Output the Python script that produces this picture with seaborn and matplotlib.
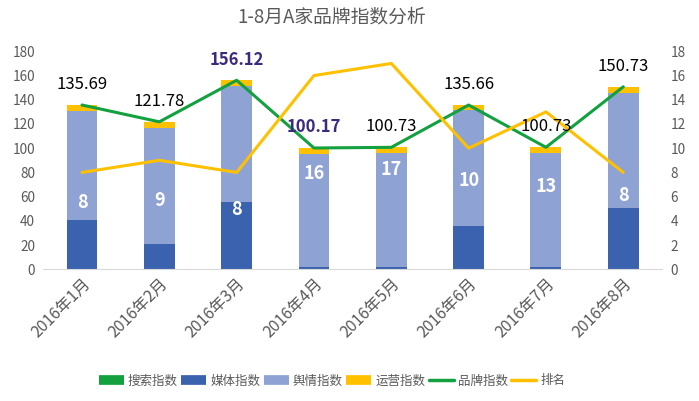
import numpy as np
import pandas as pd
import matplotlib
matplotlib.use('Agg')
import matplotlib.pyplot as plt
import seaborn as sns
from matplotlib.lines import Line2D

# data
months = ['2016年1月', '2016年2月', '2016年3月', '2016年4月',
          '2016年5月', '2016年6月', '2016年7月', '2016年8月']
search = [0, 0, 0, 0, 0, 0, 0, 0]
media = [41, 21, 55.5, 1.5, 1.5, 36, 1.5, 50.5]
opinion = [90, 96, 96, 94, 94.5, 95.5, 94.5, 95.5]
ops = [4.69, 4.78, 4.62, 4.67, 4.73, 4.16, 4.73, 4.73]
brand = [135.69, 121.78, 156.12, 100.17, 100.73, 135.66, 100.73, 150.73]
rank = [8, 9, 8, 16, 17, 10, 13, 8]
# where the white rank numbers sit (left-axis units)
rank_label_y = [55, 57, 49, 79.5, 82.5, 73.7, 68, 61]
highlight = ['156.12', '100.17']

c_search = '#13A140'
c_media = '#3B62AE'
c_opinion = '#8FA2D4'
c_ops = '#FFC000'
c_text = '#595959'
c_hl = '#3B2A7E'

sns.set_style('white')
plt.rcParams['font.family'] = ['Noto Sans CJK SC', 'DejaVu Sans']

df = pd.DataFrame({'month': months, 'search': search, 'media': media,
                   'opinion': opinion, 'ops': ops, 'brand': brand, 'rank': rank})
df['lvl1'] = df['search'] + df['media']
df['lvl2'] = df['lvl1'] + df['opinion']
df['lvl3'] = df['lvl2'] + df['ops']
df['x'] = np.arange(len(df))

fig = plt.figure(figsize=(6.99, 4.01), dpi=100)
ax = fig.add_axes([0.062, 0.3284, 0.885, 0.5436])

# stacked bars: draw cumulative totals from the top down
for col, color in [('lvl3', c_ops), ('lvl2', c_opinion), ('lvl1', c_media), ('search', c_search)]:
    sns.barplot(data=df, x='month', y=col, color=color, width=0.4,
                saturation=1, linewidth=0, edgecolor=color, ax=ax, zorder=2)

sns.lineplot(data=df, x='x', y='brand', color=c_search, linewidth=2.2, ax=ax, zorder=3)
ax.set_ylim(0, 180)
ax.set_yticks(range(0, 181, 20))
ax.set_xlim(-0.5, 7.5)

ax2 = ax.twinx()
sns.lineplot(data=df, x='x', y='rank', color=c_ops, linewidth=2.2, ax=ax2, zorder=3)
ax2.set_ylim(0, 18)
ax2.set_yticks(range(0, 19, 2))
ax2.set_xlim(-0.5, 7.5)

for a in (ax, ax2):
    for s in a.spines.values():
        s.set_visible(False)
    a.set_xlabel('')
    a.set_ylabel('')
    a.tick_params(axis='both', length=0, colors=c_text, labelsize=9.8)
ax.spines['bottom'].set_visible(True)
ax.spines['bottom'].set_color('#D9D9D9')
ax.tick_params(axis='y', pad=6)
ax2.tick_params(axis='y', pad=6)

ax.set_xticks(range(len(months)))
ax.set_xticklabels(months, rotation=45, ha='right', rotation_mode='anchor',
                   fontsize=11.5, color=c_text)
ax.tick_params(axis='x', pad=4)

# labels
for i, row in df.iterrows():
    txt = f"{row['brand']:.2f}"
    if txt in highlight:
        ax2.text(i, row['brand'] + 17, txt, transform=ax.transData, ha='center', va='center',
                 fontsize=12, fontweight='bold', color=c_hl, zorder=5)
    else:
        ax2.text(i, row['brand'] + 17, txt, transform=ax.transData, ha='center', va='center',
                 fontsize=12, color='black', zorder=5)
    ax2.text(i, rank_label_y[i], str(row['rank']), transform=ax.transData, ha='center',
             va='center', fontsize=13, fontweight='bold', color='white', zorder=5)

fig.text(0.474, 0.958, '1-8月A家品牌指数分析', ha='center', va='center',
         fontsize=13.5, color=c_text)

handles = [Line2D([], [], color=c_search, lw=7, solid_capstyle='butt'),
           Line2D([], [], color=c_media, lw=7, solid_capstyle='butt'),
           Line2D([], [], color=c_opinion, lw=7, solid_capstyle='butt'),
           Line2D([], [], color=c_ops, lw=7, solid_capstyle='butt'),
           Line2D([], [], color=c_search, lw=2.5),
           Line2D([], [], color=c_ops, lw=2.5)]
names = ['搜索指数', '媒体指数', '舆情指数', '运营指数', '品牌指数', '排名']
leg = fig.legend(handles, names, loc='center', bbox_to_anchor=(0.475, 0.05), ncol=6,
                 frameon=False, fontsize=9, handlelength=2.0, handletextpad=0.3,
                 columnspacing=0.3)
for t in leg.get_texts():
    t.set_color(c_text)

fig.savefig('out.png', dpi=100)
